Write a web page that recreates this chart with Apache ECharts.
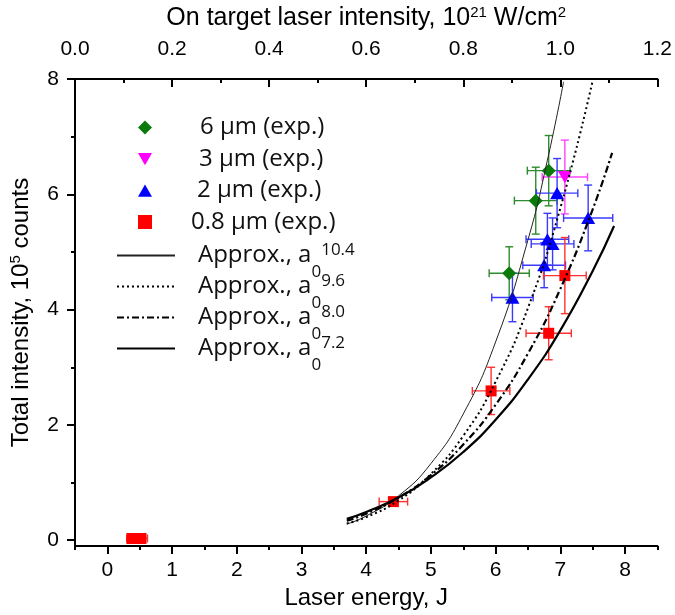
<!DOCTYPE html>
<html><head><meta charset="utf-8">
<script src="https://cdn.jsdelivr.net/npm/echarts@6/dist/echarts.min.js"></script>
<style>html,body{margin:0;padding:0;background:#fff}#c{width:675px;height:615px}</style>
</head><body><div id="c"></div>
<script>
// ---- tick labels ----
const bottomTicks = [0, 1, 2, 3, 4, 5, 6, 7, 8];
const bottomMinor = [-0.5, 0.5, 1.5, 2.5, 3.5, 4.5, 5.5, 6.5, 7.5, 8.5];
const leftTicks = [0, 2, 4, 6, 8];
const leftMinor = [1, 3, 5, 7];

// ---- experimental data: energy (J), intensity (1e5 counts), errors ----
const g6X = [6.21, 6.62, 6.82];
const g6Y = [4.63, 5.89, 6.41];
const g6Ex = [0.31, 0.33, 0.33];
const g6Ey = [0.46, 0.58, 0.61];

const m3X = [7.07];
const m3Y = [6.30];
const m3Ex = [0.35];
const m3Ey = [0.64];

const b2X = [6.26, 6.75, 6.80, 6.88, 6.95, 7.43];
const b2Y = [4.21, 4.77, 5.22, 5.14, 6.02, 5.59];
const b2Ex = [0.32, 0.33, 0.33, 0.33, 0.32, 0.38];
const b2Ey = [0.42, 0.39, 0.45, 0.45, 0.60, 0.57];

const r08X = [0.38, 0.46, 0.52, 4.42, 5.93, 6.82, 7.07];
const r08Y = [0.03, 0.03, 0.03, 0.67, 2.59, 3.59, 4.59];
const r08Ex = [0.08, 0.08, 0.10, 0.22, 0.29, 0.35, 0.33];
const r08Ey = [0.02, 0.02, 0.02, 0.06, 0.41, 0.46, 0.66];

// ---- approximation curves ----
const f104X = [3.7, 4.0, 4.5, 5.0, 5.5, 6.0, 6.5, 6.8, 7.05];
const f104Y = [0.28, 0.42, 0.77, 1.33, 2.19, 3.44, 5.21, 6.59, 7.95];
const f96X = [3.7, 4.0, 4.5, 5.0, 5.5, 6.0, 6.5, 7.0, 7.5];
const f96Y = [0.29, 0.40, 0.69, 1.15, 1.81, 2.75, 4.03, 5.76, 7.97];
const f80X = [3.7, 4.0, 4.5, 5.0, 5.5, 6.0, 6.5, 7.0, 7.5, 7.8];
const f80Y = [0.34, 0.46, 0.74, 1.13, 1.66, 2.35, 3.24, 4.36, 5.74, 6.72];
const f72X = [3.7, 4.0, 4.5, 5.0, 5.5, 6.0, 6.5, 7.0, 7.5, 7.83];
const f72Y = [0.37, 0.49, 0.74, 1.09, 1.53, 2.09, 2.79, 3.64, 4.67, 5.45];

const names = ['6 μm (exp.)', '3 μm (exp.)', '2 μm (exp.)', '0.8 μm (exp.)',
  'Approx., a0^10.4', 'Approx., a0^9.6', 'Approx., a0^8.0', 'Approx., a0^7.2'];

const DIAMOND = 'path://M1,0L2,1L1,2L0,1Z';
const TRI_UP = 'path://M1,0L2,1.75L0,1.75Z';
const TRI_DN = 'path://M0,0L2,0L1,1.75Z';
const SQUARE = 'path://M0,0L1,0L1,1L0,1Z';

const zip = (a, b) => a.map((v, i) => [v, b[i]]);
const zip4 = (a, b, c, d) => a.map((v, i) => [v, b[i], c[i], d[i]]);

function errSeries(data, color) {
  return {
    type: 'custom', z: 2, silent: true,
    data: data,
    encode: { x: 0, y: 1 },
    renderItem: function (params, api) {
      const x = api.value(0), y = api.value(1), dx = api.value(2), dy = api.value(3);
      const l = api.coord([x - dx, y]), r = api.coord([x + dx, y]);
      const t = api.coord([x, y + dy]), b = api.coord([x, y - dy]);
      const c = 4;
      const st = { stroke: color, lineWidth: 1.4 };
      const L = (x1, y1, x2, y2) => ({ type: 'line', shape: { x1, y1, x2, y2 }, style: st });
      return {
        type: 'group', children: [
          L(l[0], l[1], r[0], r[1]),
          L(l[0], l[1] - c, l[0], l[1] + c),
          L(r[0], r[1] - c, r[0], r[1] + c),
          L(t[0], t[1], b[0], b[1]),
          L(t[0] - c, t[1], t[0] + c, t[1]),
          L(b[0] - c, b[1], b[0] + c, b[1])
        ]
      };
    }
  };
}

const axisFont = 'Liberation Sans, Arial, sans-serif';
const supRich = {
  s: { fontSize: 15, padding: [0, 0, 12, 0], fontFamily: axisFont, color: '#000' }
};
const LH = 51;
const noSym = { color: 'rgba(0,0,0,0)', borderColor: 'rgba(0,0,0,0)', borderWidth: 0 };
const tok = (pl) => ({ padding: [0, 0, 0, pl], fontSize: 24, fontFamily: 'Open Sans', lineHeight: LH });
const legendText = {
  fontFamily: 'Open Sans', fontSize: 24, color: '#111', lineHeight: LH,
  rich: {
    e0: tok(43), e1: tok(42), e2: tok(40), e3: tok(34),
    a: tok(18),
    sub: { fontSize: 17, fontFamily: 'Open Sans', padding: [34, 0, 0, 0] },
    sup: { fontSize: 17, fontFamily: 'Open Sans', padding: [0, 0, 10, 0] }
  }
};
const legendFmt = function (n) {
  if (n.indexOf('Approx') === 0) {
    const p = n.split('^')[1];
    return '{a|Approx., a}{sub|0}{sup|' + p + '}';
  }
  return '{e' + names.indexOf(n) + '|' + n + '}';
};

const chart = echarts.init(document.getElementById('c'), null, { renderer: 'canvas' });
chart.setOption({
  animation: false,
  backgroundColor: '#fff',
  grid: { left: 70, right: 13, top: 70, bottom: 67 },
  legend: [
    {
      orient: 'vertical', left: 138, top: 102, padding: 0,
      itemWidth: 14, itemHeight: 14, itemGap: -19.5,
      data: [
        { name: names[0], icon: DIAMOND },
        { name: names[1], icon: TRI_DN },
        { name: names[2], icon: TRI_UP },
        { name: names[3], icon: SQUARE }
      ],
      formatter: legendFmt, textStyle: legendText
    },
    {
      orient: 'vertical', left: 116, top: 230, padding: 0,
      itemWidth: 58, itemHeight: 14, itemGap: -20,
      data: [names[4], names[5], names[6], names[7]],
      formatter: legendFmt, textStyle: legendText
    }
  ],
  xAxis: [
    {
      type: 'value', position: 'bottom', min: -0.5, max: 8.5,
      name: 'Laser energy, J', nameLocation: 'middle', nameGap: 40,
      nameTextStyle: { fontFamily: axisFont, fontSize: 24, color: '#000' },
      axisLine: { show: true, onZero: false, lineStyle: { color: '#000', width: 2 } },
      axisTick: { show: true, length: 8, lineStyle: { color: '#000', width: 2 }, customValues: bottomTicks },
      axisLabel: { fontFamily: axisFont, fontSize: 21, color: '#000', margin: 14, customValues: bottomTicks },
      splitLine: { show: false }
    },
    {
      type: 'value', position: 'bottom', min: -0.5, max: 8.5,
      axisLine: { show: false, onZero: false },
      axisTick: { show: true, length: 4, lineStyle: { color: '#000', width: 2 }, customValues: bottomMinor },
      axisLabel: { show: false },
      splitLine: { show: false }
    },
    {
      type: 'value', position: 'top', min: 0, max: 1.2, interval: 0.2,
      name: 'On target laser intensity, 10{s|21} W/cm{s|2}', nameLocation: 'middle', nameGap: 47,
      nameTextStyle: { fontFamily: axisFont, fontSize: 25, color: '#000', rich: supRich },
      axisLine: { show: true, onZero: false, lineStyle: { color: '#000', width: 2 } },
      axisTick: { show: true, inside: true, length: 8, lineStyle: { color: '#000', width: 2 } },
      minorTick: { show: true, splitNumber: 2, length: 4, lineStyle: { color: '#000', width: 2 } },
      axisLabel: { fontFamily: axisFont, fontSize: 21, color: '#000', margin: 19, formatter: v => v.toFixed(1) },
      splitLine: { show: false }
    }
  ],
  yAxis: [
    {
      type: 'value', position: 'left', min: -0.1, max: 8,
      name: 'Total intensity, 10{s|5} counts', nameLocation: 'middle', nameGap: 40,
      nameTextStyle: { fontFamily: axisFont, fontSize: 24, color: '#000', rich: supRich },
      axisLine: { show: true, onZero: false, lineStyle: { color: '#000', width: 2 } },
      axisTick: { show: true, length: 8, lineStyle: { color: '#000', width: 2 }, customValues: leftTicks },
      axisLabel: { fontFamily: axisFont, fontSize: 21, color: '#000', margin: 16, customValues: leftTicks },
      splitLine: { show: false }
    },
    {
      type: 'value', position: 'left', min: -0.1, max: 8,
      axisLine: { show: false, onZero: false },
      axisTick: { show: true, length: 4, lineStyle: { color: '#000', width: 2 }, customValues: leftMinor },
      axisLabel: { show: false },
      splitLine: { show: false }
    }
  ],
  series: [
    errSeries(zip4(g6X, g6Y, g6Ex, g6Ey), '#2e8b2e'),
    errSeries(zip4(m3X, m3Y, m3Ex, m3Ey), '#ff44ff'),
    errSeries(zip4(b2X, b2Y, b2Ex, b2Ey), '#3a3aff'),
    errSeries(zip4(r08X, r08Y, r08Ex, r08Ey), '#ff3030'),
    { name: names[0], type: 'scatter', z: 3, symbol: DIAMOND, symbolSize: 14, symbolKeepAspect: true,
      itemStyle: { color: '#0a7a0a', opacity: 1 }, data: zip(g6X, g6Y) },
    { name: names[1], type: 'scatter', z: 3, symbol: TRI_DN, symbolSize: 14, symbolKeepAspect: true,
      itemStyle: { color: '#ff00ff', opacity: 1 }, data: zip(m3X, m3Y) },
    { name: names[2], type: 'scatter', z: 3, symbol: TRI_UP, symbolSize: 14, symbolKeepAspect: true,
      itemStyle: { color: '#0000ff', opacity: 1 }, data: zip(b2X, b2Y) },
    { name: names[3], type: 'scatter', z: 3, symbol: SQUARE, symbolSize: 11, symbolKeepAspect: true,
      itemStyle: { color: '#ff0000', opacity: 1 }, data: zip(r08X, r08Y) },
    { name: names[4], type: 'line', z: 4, smooth: true, symbol: 'none', itemStyle: noSym,
      lineStyle: { color: '#222', width: 1, type: 'solid' }, data: zip(f104X, f104Y) },
    { name: names[5], type: 'line', z: 4, smooth: true, symbol: 'none', itemStyle: noSym,
      lineStyle: { color: '#000', width: 2, type: [2, 3] }, data: zip(f96X, f96Y) },
    { name: names[6], type: 'line', z: 4, smooth: true, symbol: 'none', itemStyle: noSym,
      lineStyle: { color: '#000', width: 2.2, type: [7, 3, 2, 3] }, data: zip(f80X, f80Y) },
    { name: names[7], type: 'line', z: 4, smooth: true, symbol: 'none', itemStyle: noSym,
      lineStyle: { color: '#000', width: 2.2, type: 'solid' }, data: zip(f72X, f72Y) }
  ]
});
</script></body></html>
